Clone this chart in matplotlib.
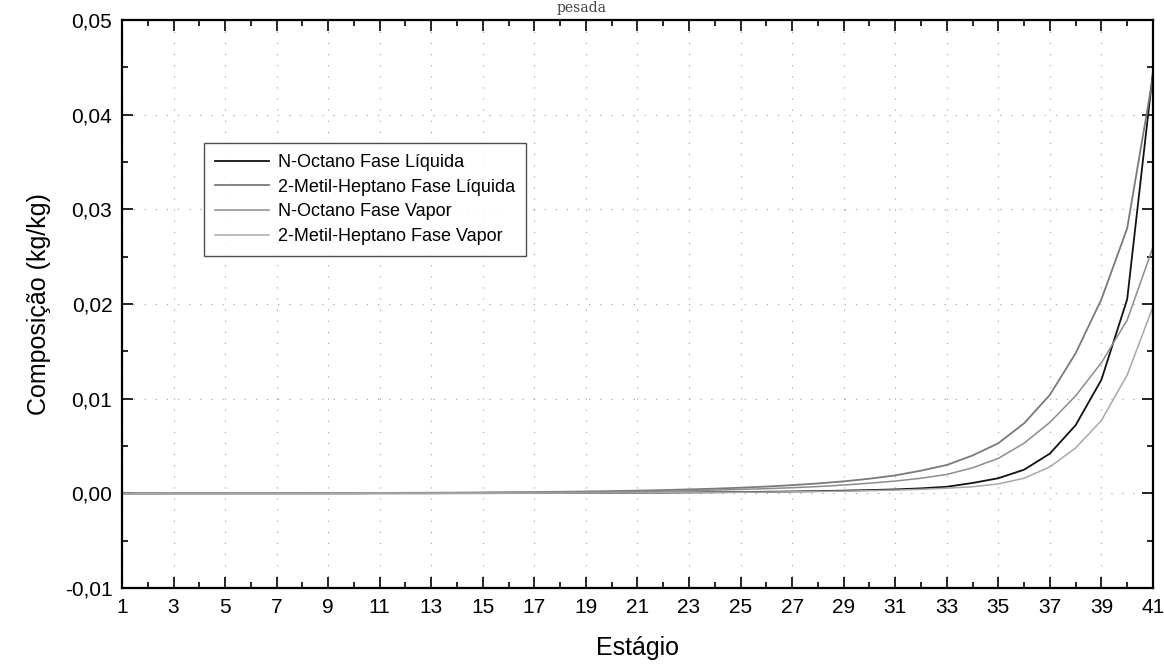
import matplotlib.pyplot as plt
from matplotlib.ticker import MultipleLocator, FuncFormatter

plt.rcParams['font.family'] = ['Liberation Sans', 'DejaVu Sans']

estagio = list(range(1, 42))

# N-Octano fase liquida (preta)
oct_liq = [0.0000, 0.0000, 0.0000, 0.0000, 0.0000, 0.0000, 0.0000, 0.0000, 0.0000, 0.0000,
           0.00001, 0.00001, 0.00001, 0.00002, 0.00002, 0.00003, 0.00003, 0.00004, 0.00005, 0.00006,
           0.00007, 0.00008, 0.00010, 0.00012, 0.00014, 0.00017, 0.00020, 0.00024, 0.00029, 0.00035,
           0.00042, 0.00053, 0.0007, 0.0011, 0.0016, 0.0025, 0.0042, 0.0072, 0.0120, 0.0205, 0.0445]

# 2-Metil-Heptano fase liquida
met_liq = [0.0000, 0.0000, 0.00001, 0.00001, 0.00001, 0.00002, 0.00002, 0.00003, 0.00003, 0.00004,
           0.00005, 0.00006, 0.00007, 0.00008, 0.00010, 0.00012, 0.00014, 0.00017, 0.00020, 0.00024,
           0.00029, 0.00035, 0.00042, 0.00050, 0.00060, 0.00072, 0.00087, 0.00105, 0.00127, 0.00155,
           0.0019, 0.0024, 0.0030, 0.0040, 0.0053, 0.0074, 0.0104, 0.0148, 0.0205, 0.0280, 0.0440]

# N-Octano fase vapor
oct_vap = [0.0000, 0.0000, 0.0000, 0.00001, 0.00001, 0.00001, 0.00002, 0.00002, 0.00003, 0.00003,
           0.00004, 0.00005, 0.00005, 0.00006, 0.00007, 0.00009, 0.00010, 0.00012, 0.00014, 0.00017,
           0.00020, 0.00024, 0.00029, 0.00035, 0.00042, 0.00050, 0.00060, 0.00072, 0.00088, 0.00108,
           0.0013, 0.0016, 0.0020, 0.0027, 0.0037, 0.0053, 0.0075, 0.0103, 0.0138, 0.0183, 0.0260]

# 2-Metil-Heptano fase vapor
met_vap = [0.0000, 0.0000, 0.0000, 0.0000, 0.0000, 0.0000, 0.0000, 0.0000, 0.0000, 0.00001,
           0.00001, 0.00001, 0.00001, 0.00002, 0.00002, 0.00002, 0.00003, 0.00003, 0.00004, 0.00005,
           0.00006, 0.00007, 0.00008, 0.00010, 0.00012, 0.00014, 0.00017, 0.00020, 0.00024, 0.00029,
           0.00035, 0.00043, 0.00055, 0.0007, 0.0010, 0.0016, 0.0028, 0.0048, 0.0077, 0.0125, 0.0197]

nomes = ["N-Octano Fase Líquida", "2-Metil-Heptano Fase Líquida",
         "N-Octano Fase Vapor", "2-Metil-Heptano Fase Vapor"]

fig = plt.figure(figsize=(11.64, 6.69), dpi=100)
ax = fig.add_axes([0.1048, 0.121, 0.8857, 0.849])

ax.plot(estagio, oct_liq, color="#111111", lw=1.3, label=nomes[0])
ax.plot(estagio, met_liq, color="#7a7a7a", lw=1.3, label=nomes[1])
ax.plot(estagio, oct_vap, color="#8c8c8c", lw=1.1, label=nomes[2])
ax.plot(estagio, met_vap, color="#a8a8a8", lw=1.1, label=nomes[3])

ax.set_xlim(1, 41)
ax.set_ylim(-0.01, 0.05)
ax.xaxis.set_major_locator(MultipleLocator(2, offset=1))
ax.xaxis.set_minor_locator(MultipleLocator(1))
ax.yaxis.set_major_locator(MultipleLocator(0.01))
ax.yaxis.set_minor_locator(MultipleLocator(0.005))
ax.yaxis.set_major_formatter(FuncFormatter(lambda v, p: ("%.2f" % v).replace(".", ",").replace("-0,00", "0,00")))

ax.tick_params(which="both", direction="in", top=True, right=True, labelsize=15, width=1.2)
ax.tick_params(which="major", length=8, pad=7)
ax.tick_params(which="minor", length=4)
for s in ax.spines.values():
    s.set_linewidth(1.6)

ax.grid(True, which="major", color="#999999", linestyle=(0, (1, 9)), linewidth=0.8)

ax.set_xlabel("Estágio", fontsize=18, labelpad=14)
ax.set_ylabel("Composição (kg/kg)", fontsize=18, labelpad=10)

leg = ax.legend(loc="upper left", bbox_to_anchor=(0.08, 0.783), borderaxespad=0, fontsize=13,
                frameon=True, fancybox=False, edgecolor="#222222", handlelength=3.0,
                handletextpad=0.5, labelspacing=0.42, borderpad=0.6)
leg.get_frame().set_linewidth(1.0)

fig.text(0.5, 0.999, "pesada", ha="center", va="top", fontsize=10, family="DejaVu Serif", color="#444444")

fig.savefig("out.png", dpi=100)
